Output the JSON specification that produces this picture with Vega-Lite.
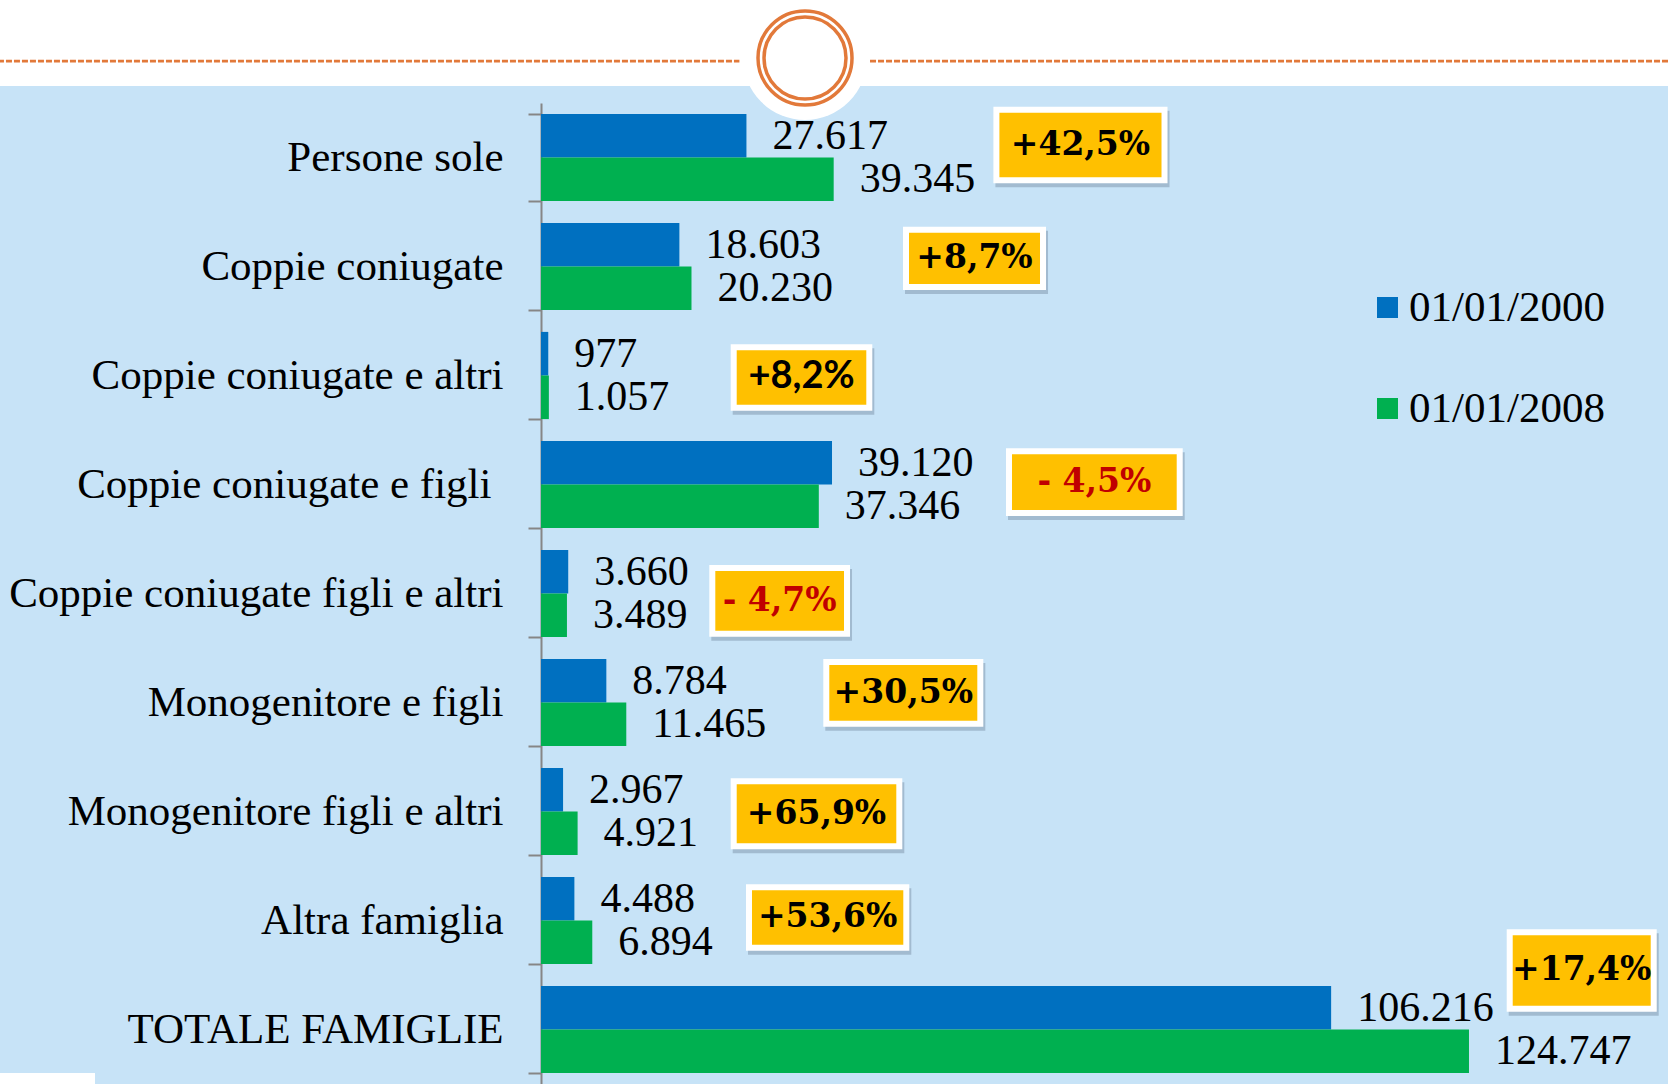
{
  "$schema": "https://vega.github.io/schema/vega-lite/v6.json",
  "width": 1127,
  "height": 981,
  "autosize": {"type": "none"},
  "padding": {"left": 541, "top": 103, "right": 0, "bottom": 0},
  "background": "#C7E3F7",
  "config": {
    "view": {"stroke": null},
    "font": "Liberation Serif",
    "locale": {"number": {"decimal": ",", "thousands": ".", "grouping": [3], "currency": ["", " €"]}}
  },
  "resolve": {"scale": {"y": "independent"}},
  "layer": [
    {
      "data": {"values": [
        {"cat": "Persone sole", "year": "01/01/2000", "value": 27617},
        {"cat": "Persone sole", "year": "01/01/2008", "value": 39345},
        {"cat": "Coppie coniugate", "year": "01/01/2000", "value": 18603},
        {"cat": "Coppie coniugate", "year": "01/01/2008", "value": 20230},
        {"cat": "Coppie coniugate e altri", "year": "01/01/2000", "value": 977},
        {"cat": "Coppie coniugate e altri", "year": "01/01/2008", "value": 1057},
        {"cat": "Coppie coniugate e figli", "year": "01/01/2000", "value": 39120},
        {"cat": "Coppie coniugate e figli", "year": "01/01/2008", "value": 37346},
        {"cat": "Coppie coniugate figli e altri", "year": "01/01/2000", "value": 3660},
        {"cat": "Coppie coniugate figli e altri", "year": "01/01/2008", "value": 3489},
        {"cat": "Monogenitore e figli", "year": "01/01/2000", "value": 8784},
        {"cat": "Monogenitore e figli", "year": "01/01/2008", "value": 11465},
        {"cat": "Monogenitore figli e altri", "year": "01/01/2000", "value": 2967},
        {"cat": "Monogenitore figli e altri", "year": "01/01/2008", "value": 4921},
        {"cat": "Altra famiglia", "year": "01/01/2000", "value": 4488},
        {"cat": "Altra famiglia", "year": "01/01/2008", "value": 6894},
        {"cat": "TOTALE FAMIGLIE", "year": "01/01/2000", "value": 106216},
        {"cat": "TOTALE FAMIGLIE", "year": "01/01/2008", "value": 124747}
      ]},
      "encoding": {
        "y": {
          "field": "cat", "type": "nominal",
          "sort": ["Persone sole", "Coppie coniugate", "Coppie coniugate e altri", "Coppie coniugate e figli", "Coppie coniugate figli e altri", "Monogenitore e figli", "Monogenitore figli e altri", "Altra famiglia", "TOTALE FAMIGLIE"],
          "scale": {"paddingInner": 0.2, "paddingOuter": 0.1},
          "axis": {
            "title": null,
            "tickBand": "extent",
            "domainColor": "#868686", "domainWidth": 2,
            "tickColor": "#868686", "tickWidth": 2, "tickSize": 13,
            "labelFont": "Liberation Serif", "labelFontSize": 43, "labelColor": "black",
            "labelPadding": {"condition": {"test": "datum.value == 'Coppie coniugate e figli'", "value": 37}, "value": 25},
            "labelLimit": 700
          }
        },
        "yOffset": {"field": "year", "type": "nominal"},
        "x": {"field": "value", "type": "quantitative", "scale": {"domain": [0, 151500], "nice": false, "zero": true}, "axis": null}
      },
      "layer": [
        {
          "mark": {"type": "bar"},
          "encoding": {
            "color": {
              "field": "year", "type": "nominal",
              "scale": {"domain": ["01/01/2000", "01/01/2008"], "range": ["#0070C0", "#00B050"]},
              "legend": {
                "orient": "none", "legendX": 825, "legendY": 183, "title": null,
                "symbolType": "square", "symbolSize": 440, "symbolStrokeWidth": 0, "symbolOpacity": 1,
                "labelFont": "Liberation Serif", "labelFontSize": 43, "labelColor": "black",
                "labelOffset": 0, "rowPadding": 57, "padding": 0, "labelLimit": 400
              }
            }
          }
        },
        {
          "mark": {"type": "text", "align": "left", "baseline": "middle", "dx": 26, "fontSize": 42, "font": "Liberation Serif", "color": "black"},
          "encoding": {"text": {"field": "value", "type": "quantitative", "format": ",.0f"}}
        }
      ]
    },
    {
      "data": {"values": [
        {"cat": "Persone sole", "label": "+42,5%", "x1": 61220, "x2": 83817, "r1": 0.061, "r2": 0.709},
        {"cat": "Coppie coniugate", "label": "+8,7%", "x1": 49067, "x2": 67484, "r1": 1.162, "r2": 1.688},
        {"cat": "Coppie coniugate e altri", "label": "+8,2%", "x1": 25905, "x2": 44133, "r1": 2.241, "r2": 2.795},
        {"cat": "Coppie coniugate e figli", "label": "- 4,5%", "x1": 62913, "x2": 85860, "r1": 3.195, "r2": 3.761},
        {"cat": "Coppie coniugate figli e altri", "label": "- 4,7%", "x1": 23028, "x2": 41136, "r1": 4.266, "r2": 4.869},
        {"cat": "Monogenitore e figli", "label": "+30,5%", "x1": 38353, "x2": 59055, "r1": 5.128, "r2": 5.694},
        {"cat": "Monogenitore figli e altri", "label": "+65,9%", "x1": 25905, "x2": 48166, "r1": 6.223, "r2": 6.819},
        {"cat": "Altra famiglia", "label": "+53,6%", "x1": 27961, "x2": 49107, "r1": 7.195, "r2": 7.749},
        {"cat": "TOTALE FAMIGLIE", "label": "+17,4%", "x1": 130222, "x2": 149580, "r1": 7.608, "r2": 8.309}
      ]},
      "layer": [
        {
          "data": {"values": [{}]},
          "mark": {"type": "rect", "fill": "white"},
          "encoding": {
            "x": {"datum": -73000, "type": "quantitative"},
            "x2": {"datum": 152000},
            "y": {"datum": -0.95, "type": "quantitative", "scale": {"domain": [0, 9], "reverse": true, "nice": false, "zero": false}, "axis": null},
            "y2": {"datum": -0.156}
          }
        },
        {
          "data": {"values": [{}]},
          "mark": {"type": "rect", "fill": "white"},
          "encoding": {
            "x": {"datum": -73000, "type": "quantitative"},
            "x2": {"datum": -59956},
            "y": {"datum": 8.899, "type": "quantitative", "scale": {"domain": [0, 9], "reverse": true, "nice": false, "zero": false}, "axis": null},
            "y2": {"datum": 9.05}
          }
        },
        {
          "data": {"values": [{}]},
          "mark": {"type": "rule", "color": "#E2793A", "strokeWidth": 2.7, "strokeDash": [6, 2]},
          "encoding": {
            "x": {"datum": -73000, "type": "quantitative"},
            "x2": {"datum": 26671},
            "y": {"datum": -0.385, "type": "quantitative", "scale": {"domain": [0, 9], "reverse": true, "nice": false, "zero": false}, "axis": null}
          }
        },
        {
          "data": {"values": [{}]},
          "mark": {"type": "rule", "color": "#E2793A", "strokeWidth": 2.7, "strokeDash": [6, 2]},
          "encoding": {
            "x": {"datum": 44228, "type": "quantitative"},
            "x2": {"datum": 152000},
            "y": {"datum": -0.385, "type": "quantitative", "scale": {"domain": [0, 9], "reverse": true, "nice": false, "zero": false}, "axis": null}
          }
        },
        {
          "data": {"values": [{}]},
          "mark": {"type": "point", "shape": "circle", "filled": true, "color": "white", "opacity": 1, "size": 15376},
          "encoding": {
            "x": {"datum": 35490, "type": "quantitative"},
            "y": {"datum": -0.413, "type": "quantitative", "scale": {"domain": [0, 9], "reverse": true, "nice": false, "zero": false}, "axis": null}
          }
        },
        {
          "data": {"values": [{}]},
          "mark": {"type": "point", "shape": "circle", "filled": false, "stroke": "#E2793A", "strokeWidth": 3.5, "opacity": 1, "size": 8836},
          "encoding": {
            "x": {"datum": 35490, "type": "quantitative"},
            "y": {"datum": -0.413, "type": "quantitative", "scale": {"domain": [0, 9], "reverse": true, "nice": false, "zero": false}, "axis": null}
          }
        },
        {
          "data": {"values": [{}]},
          "mark": {"type": "point", "shape": "circle", "filled": false, "stroke": "#E2793A", "strokeWidth": 3.5, "opacity": 1, "size": 6724},
          "encoding": {
            "x": {"datum": 35490, "type": "quantitative"},
            "y": {"datum": -0.413, "type": "quantitative", "scale": {"domain": [0, 9], "reverse": true, "nice": false, "zero": false}, "axis": null}
          }
        },
        {
          "mark": {"type": "rect", "fill": "#6d8298", "stroke": "#6d8298", "strokeWidth": 6, "opacity": 0.4, "xOffset": 2, "x2Offset": 2, "yOffset": 4, "y2Offset": 4},
          "encoding": {
            "x": {"field": "x1", "type": "quantitative"},
            "x2": {"field": "x2"},
            "y": {"field": "r1", "type": "quantitative", "scale": {"domain": [0, 9], "reverse": true, "nice": false, "zero": false}, "axis": null},
            "y2": {"field": "r2"}
          }
        },
        {
          "mark": {"type": "rect", "fill": "#FFC000", "stroke": "white", "strokeWidth": 6},
          "encoding": {
            "x": {"field": "x1", "type": "quantitative"},
            "x2": {"field": "x2"},
            "y": {"field": "r1", "type": "quantitative", "scale": {"domain": [0, 9], "reverse": true, "nice": false, "zero": false}, "axis": null},
            "y2": {"field": "r2"}
          }
        },
        {
          "transform": [
            {"filter": "datum.cat != 'Coppie coniugate e altri'"},
            {"calculate": "(datum.x1 + datum.x2) / 2", "as": "xm"},
            {"calculate": "(datum.r1 + datum.r2) / 2", "as": "rm"}
          ],
          "mark": {"type": "text", "font": "DejaVu Serif", "fontWeight": "bold", "fontSize": 33, "align": "center", "baseline": "middle"},
          "encoding": {
            "x": {"field": "xm", "type": "quantitative"},
            "y": {"field": "rm", "type": "quantitative", "scale": {"domain": [0, 9], "reverse": true, "nice": false, "zero": false}, "axis": null},
            "text": {"field": "label"},
            "color": {"condition": {"test": "indexof(datum.label, '-') == 0", "value": "#C00000"}, "value": "black"}
          }
        },
        {
          "transform": [
            {"filter": "datum.cat == 'Coppie coniugate e altri'"},
            {"calculate": "(datum.x1 + datum.x2) / 2", "as": "xm"},
            {"calculate": "(datum.r1 + datum.r2) / 2", "as": "rm"}
          ],
          "mark": {"type": "text", "font": "Lato", "fontWeight": "bold", "fontSize": 38, "align": "center", "baseline": "middle", "color": "black"},
          "encoding": {
            "x": {"field": "xm", "type": "quantitative"},
            "y": {"field": "rm", "type": "quantitative", "scale": {"domain": [0, 9], "reverse": true, "nice": false, "zero": false}, "axis": null},
            "text": {"field": "label"}
          }
        }
      ]
    }
  ]
}
